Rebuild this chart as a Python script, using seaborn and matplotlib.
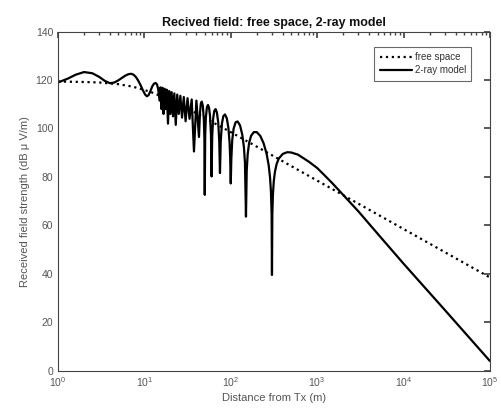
import matplotlib
matplotlib.use("Agg")
import matplotlib.pyplot as plt
import seaborn as sns
import pandas as pd
import numpy as np

# ---- data ----
fs_distance = [1, 2, 3, 4, 5, 6, 7, 8, 10, 12, 15, 20, 25, 30, 40, 50, 70, 100,
               200, 500, 1000, 10000, 100000]
fs_field = [119.4, 119.2, 119.0, 118.6, 118.3, 117.8, 117.4, 116.9, 115.9, 115.0,
            113.6, 111.7, 110.0, 108.6, 106.3, 104.4, 101.5, 98.5,
            92.5, 84.5, 78.5, 58.5, 38.5]

tworay_distance = [
    1, 1.3, 1.6, 2.0, 2.5, 3.0, 3.5, 4.0, 4.5, 5.0, 5.5, 6.0, 6.5, 7.0, 7.5, 8.0,
    8.5, 9.0, 9.6, 10.2, 10.7, 11.2, 11.7, 12.3, 12.9, 13.5, 14.0, 14.4,
    15.0, 15.38, 15.79, 16.22, 16.67, 17.14, 17.65, 18.18, 18.75, 19.35, 20.0,
    20.69, 21.43, 22.22, 23.08, 24.0, 25.0, 26.09, 27.27, 28.57, 30.0, 31.58,
    33.33, 35.29, 37.5, 40.0, 42.86,
    44.0, 45.0, 46.15, 47.5, 48.8, 49.5, 50.0,
    50.6, 51.5, 53.0, 54.5, 56.0, 57.5, 59.0, 60.0,
    61.0, 62.5, 64.5, 66.7, 69.0, 71.5, 73.5, 75.0,
    76.5, 79.0, 82.0, 85.7, 90.0, 94.0, 97.0, 98.5, 100.0,
    101.5, 104.0, 108.0, 114.0, 120.0, 128.0, 136.0, 142.0, 146.0, 150.0,
    153.0, 157.0, 163.0, 172.0, 185.0, 200.0, 220.0, 240.0, 260.0, 275.0,
    285.0, 292.0, 297.0, 300.0,
    303.0, 308.0, 315.0, 325.0, 340.0, 360.0, 400.0, 450.0, 500.0, 600.0,
    800.0, 1000.0, 1200.0, 1500.0, 2000.0, 3000.0, 5000.0, 10000.0, 30000.0,
    100000.0]
tworay_field = [
    119.0, 120.6, 122.2, 123.3, 122.8, 121.3, 119.6, 118.7, 119.0, 119.9, 120.9,
    121.8, 122.4, 122.6, 122.2, 121.2, 119.7, 118.0, 115.8, 114.0, 113.3, 113.8,
    115.3, 117.3, 118.5, 118.8, 118.2, 116.5,
    111.5, 117.0, 108.0, 116.8, 106.0, 116.4, 108.0, 116.0, 102.0, 115.5, 106.0,
    115.0, 105.0, 114.5, 101.5, 114.0, 106.0, 113.5, 104.5, 113.0, 103.0, 112.5,
    104.0, 112.0, 90.5, 111.5, 96.5,
    106.3, 110.2, 111.1, 109.4, 103.7, 96.2, 72.6,
    97.3, 104.6, 108.9, 109.7, 108.6, 105.3, 97.5, 80.2,
    97.0, 104.0, 107.3, 108.0, 106.7, 102.7, 95.3, 81.6,
    94.6, 102.0, 105.1, 105.8, 104.2, 100.1, 94.0, 87.7, 77.3,
    87.3, 95.2, 100.0, 102.6, 102.9, 101.3, 97.4, 92.3, 85.9, 63.6,
    82.6, 89.4, 94.0, 97.0, 98.5, 98.5, 96.9, 93.9, 89.6, 84.7,
    79.7, 73.9, 65.1, 39.5,
    64.9, 73.0, 78.3, 82.2, 85.4, 87.6, 89.5, 90.2, 90.1, 89.2,
    86.3, 83.7, 80.9, 77.4, 72.6, 65.8, 56.6, 44.2, 25.1,
    4.0]

series_names = ["free space", "2-ray model"]
x_tick_values = [1, 10, 100, 1000, 10000, 100000]
y_tick_values = [0, 20, 40, 60, 80, 100, 120, 140]

# ---- plotting ----
sns.set_theme(style="white")
plt.rcParams["font.family"] = ["Liberation Sans", "DejaVu Sans"]

fig = plt.figure(figsize=(5.01, 4.16), dpi=100)
ax = fig.add_axes([0.1158, 0.109, 0.862, 0.815])

df_fs = pd.DataFrame({"d": fs_distance, "E": fs_field})
df_tr = pd.DataFrame({"d": tworay_distance, "E": tworay_field})

sns.lineplot(data=df_fs, x="d", y="E", ax=ax, color="black", linestyle=":",
             linewidth=1.6, sort=False, estimator=None, label=series_names[0])
sns.lineplot(data=df_tr, x="d", y="E", ax=ax, color="black", linestyle="-",
             linewidth=1.6, sort=False, estimator=None, label=series_names[1])

ax.set_xscale("log")
ax.set_xlim(1, 1e5)
ax.set_ylim(0, 140)
ax.set_xticks(x_tick_values)
ax.set_yticks(y_tick_values)

label_color = "#555555"
for sp in ax.spines.values():
    sp.set_color("#444444")
    sp.set_linewidth(0.8)
ax.tick_params(axis="both", which="both", direction="in", top=True, right=True,
               colors="#444444", labelcolor=label_color, labelsize=7.5)
ax.tick_params(axis="both", which="major", length=4)
ax.tick_params(axis="x", which="minor", length=2)

ax.set_title("Recived field: free space, 2-ray model", fontsize=9,
             fontweight="bold", color="#111111", pad=4)
ax.set_xlabel("Distance from Tx (m)", fontsize=8, color=label_color, labelpad=3)
ax.set_ylabel("Received field strength (dB \u03bc V/m)", fontsize=8,
              color=label_color, labelpad=4)

leg = ax.legend(loc="upper right", fontsize=7, frameon=True, fancybox=False,
                edgecolor="#444444", borderpad=0.55, handlelength=3.3,
                handletextpad=0.3, labelspacing=0.35,
                bbox_to_anchor=(0.968, 0.97))
leg.get_frame().set_linewidth(0.8)
for t in leg.get_texts():
    t.set_color("#333333")

fig.savefig("out.png", dpi=100)
